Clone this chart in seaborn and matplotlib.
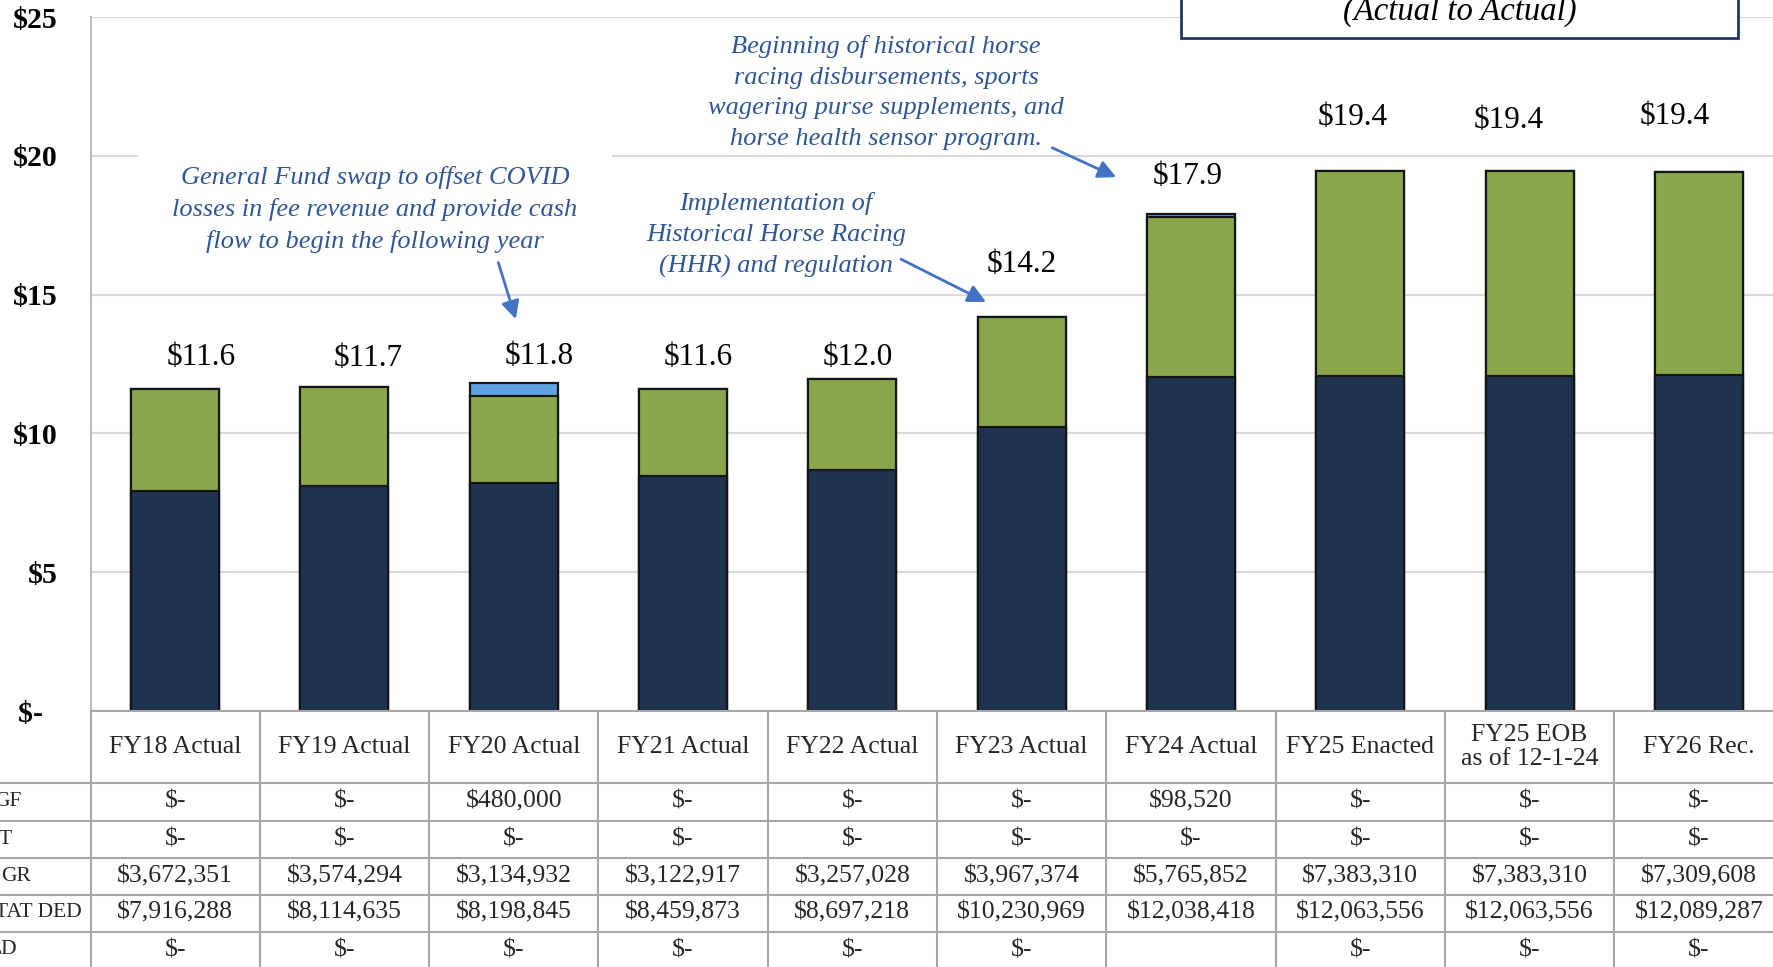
import numpy as np
import pandas as pd
import seaborn as sns
import matplotlib.pyplot as plt
from matplotlib.patches import Rectangle

# ---- data (dollars) ----
years = ["FY18 Actual", "FY19 Actual", "FY20 Actual", "FY21 Actual", "FY22 Actual",
         "FY23 Actual", "FY24 Actual", "FY25 Enacted", "FY25 EOB\nas of 12-1-24", "FY26 Rec."]
# row labels as far as they are visible in the (cropped) original
row_names = ["GF", "T", "GR", "TAT DED", "ED"]
gf = [0, 0, 480000, 0, 0, 0, 98520, 0, 0, 0]
iat = [0, 0, 0, 0, 0, 0, 0, 0, 0, 0]
sgr = [3672351, 3574294, 3134932, 3122917, 3257028, 3967374, 5765852, 7383310, 7383310, 7309608]
stat_ded = [7916288, 8114635, 8198845, 8459873, 8697218, 10230969, 12038418, 12063556, 12063556, 12089287]
fed = [0, 0, 0, 0, 0, 0, None, 0, 0, 0]

# label placement (layout only)
label_dx = [0.153, 0.141, 0.149, 0.089, 0.032, 0.0, -0.022, -0.042, -0.126, -0.141]
label_dy = [1.13, 1.01, 0.94, 1.15, 0.78, 1.87, 1.35, 1.95, 1.81, 2.0]

navy = "#1F324F"
green = "#8AA84B"
blue = "#5FA3E0"
note_col = "#2F5597"
arrow_col = "#4472C4"

sns.set_theme(style="white")
plt.rcParams['font.family'] = ['Liberation Serif', 'DejaVu Serif']

df = pd.DataFrame({"year": years,
                   "stat": np.array(stat_ded) / 1e6,
                   "sgr": np.array(sgr) / 1e6,
                   "gf": np.array(gf) / 1e6})
df["lvl2"] = df["stat"] + df["sgr"]
df["total"] = df["lvl2"] + df["gf"]

W, H = 1773, 967
fig = plt.figure(figsize=(W / 100, H / 100), dpi=100)
left = 90.5 / W
width = 1693 / W
bottom = 1 - 711 / H
top = 1 - 17 / H
ax = fig.add_axes([left, bottom, width, top - bottom])

bar_kw = dict(width=0.52, edgecolor="#151515", linewidth=1.6, saturation=1, errorbar=None, ax=ax)
sns.barplot(data=df, x="year", y="total", color=blue, **bar_kw)
sns.barplot(data=df, x="year", y="lvl2", color=green, **bar_kw)
sns.barplot(data=df, x="year", y="stat", color=navy, **bar_kw)

ax.set_xlim(-0.5, 9.5)
ax.set_ylim(0, 25)
ax.set_xlabel("")
ax.set_ylabel("")
ax.set_xticks([])
ax.set_yticks([0, 5, 10, 15, 20, 25])
ax.set_yticklabels(["$-  ", "$5", "$10", "$15", "$20", "$25"], fontweight="bold", fontsize=21.5)
ax.tick_params(axis="y", length=0, pad=23.5, colors="black")
ax.set_axisbelow(True)
ax.yaxis.grid(True, color="#D9D9D9", lw=1.5)
for s in ["top", "right"]:
    ax.spines[s].set_visible(False)
ax.spines["left"].set_color("#BFBFBF")
ax.spines["left"].set_linewidth(1.5)
ax.spines["bottom"].set_color("#A6A6A6")
ax.spines["bottom"].set_linewidth(1.5)

# total labels
for i, tot in enumerate(df["total"]):
    ax.text(i + label_dx[i], tot + label_dy[i], f"${tot:.1f}", ha="center", va="center",
            fontsize=22.5, color="black")

# annotations
ax.add_patch(Rectangle((-0.22, 19.5), 2.8, 1.0, facecolor="white", edgecolor="none", zorder=0.8))
note_kw = dict(ha="center", va="center", fontsize=19, style="italic", color=note_col,
               linespacing=1.5)
ax.text(1.18, 18.05, "General Fund swap to offset COVID\nlosses in fee revenue and provide cash\nflow to begin the following year", **note_kw)
ax.text(3.549, 17.15, "Implementation of\nHistorical Horse Racing\n(HHR) and regulation", **note_kw)
ax.text(4.199, 22.28, "Beginning of historical horse\nracing disbursements, sports\nwagering purse supplements, and\nhorse health sensor program.", **note_kw)
arr = dict(arrowstyle="-|>,head_length=0.9,head_width=0.45", color=arrow_col, lw=2)
ax.annotate("", xy=(2.017, 14.02), xytext=(1.904, 16.25), arrowprops=arr)
ax.annotate("", xy=(4.804, 14.69), xytext=(4.273, 16.32), arrowprops=arr)
ax.annotate("", xy=(5.573, 19.19), xytext=(5.166, 20.33), arrowprops=arr)

# title box (cut at top)
fig.patches.append(Rectangle((1181 / W, 1 - 37.7 / H), (1738 - 1181) / W, 0.1,
                             transform=fig.transFigure, facecolor="white",
                             edgecolor="#1F3864", lw=2, zorder=10))
fig.text(1459.9 / W, 1 - 20 / H, "(Actual to Actual)", ha="center", va="baseline",
         fontsize=23.5, style="italic", color="black", zorder=11)

# ---- data table ----
tab = fig.add_axes([left, 0, width, bottom])
tab.set_xlim(-0.5, 9.5)
tab.set_ylim(H, 711)
tab.axis("off")
grey = "#A6A6A6"
for yy in [782.5, 820.5, 857.5, 894.5, 932]:
    tab.plot([-1.1, 9.5], [yy, yy], color=grey, lw=1.5, clip_on=False)
for xx in np.arange(-0.5, 10):
    tab.plot([xx, xx], [711, H + 5], color=grey, lw=1.5, clip_on=False)


def money(v):
    if v is None:
        return ""
    if v == 0:
        return "$-"
    return f"${v:,.0f}"


tab_fs = 18.5
for i, name in enumerate(years):
    tab.text(i, 747, name, ha="center", va="center", fontsize=tab_fs, linespacing=1.1)

rows = [gf, iat, sgr, stat_ded, fed]
row_y = [801.7, 839.5, 876.5, 912.5, 950]
row_lab_x = [-0.905, -0.966, -0.85, -0.553, -0.934]
for r, vals in enumerate(rows):
    tab.text(row_lab_x[r], row_y[r], row_names[r], ha="right", va="center", fontsize=15.5,
             clip_on=False)
    for i, v in enumerate(vals):
        tab.text(i, row_y[r], money(v), ha="center", va="center", fontsize=tab_fs)

fig.savefig("out.png", dpi=100)
